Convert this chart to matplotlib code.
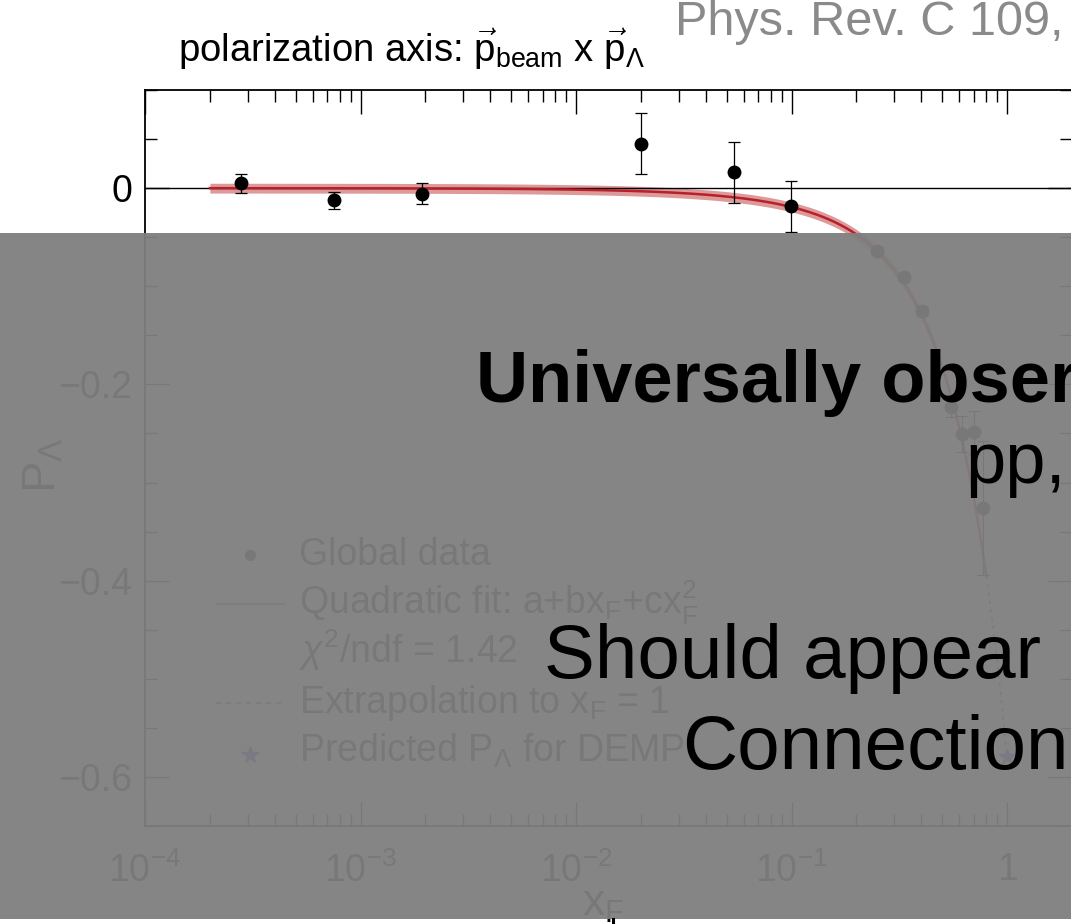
import numpy as np
import matplotlib
matplotlib.use("Agg")
import matplotlib.pyplot as plt
from matplotlib.patches import Rectangle
from matplotlib.lines import Line2D
from matplotlib.ticker import FuncFormatter, MultipleLocator, LogLocator

plt.rcParams["font.family"] = ["Liberation Sans", "DejaVu Sans"]
plt.rcParams["mathtext.fontset"] = "custom"
plt.rcParams["mathtext.rm"] = "Liberation Sans"
plt.rcParams["mathtext.it"] = "Liberation Sans:italic"
plt.rcParams["mathtext.bf"] = "Liberation Sans:bold"

# global Lambda polarization data (x_F, P_Lambda, error)
xf = [2.8e-4, 7.5e-4, 1.93e-3, 2.0e-2, 5.4e-2, 0.099,
      0.249, 0.332, 0.404, 0.547, 0.619, 0.701, 0.776]
pl = [0.005, -0.0126, -0.0057, 0.0453, 0.0163, -0.0187,
      -0.0636, -0.091, -0.125, -0.2235, -0.2506, -0.249, -0.326]
err = [0.0095, 0.009, 0.0105, 0.031, 0.031, 0.026,
       0.004, 0.004, 0.005, 0.010, 0.018, 0.022, 0.068]

# quadratic fit a + b x + c x^2 and its range
fit_a, fit_b, fit_c = 0.0, -0.15, -0.43
fit_band = 0.005
fit_range = (2.0e-4, 0.8)
extrap_range = (0.8, 1.0)
pred_x, pred_p = 1.0, -0.58

legend_labels = ["Global data",
                 r"Quadratic fit: a+bx$_\mathrm{F}$+cx$_\mathrm{F}^2$",
                 r"$\chi^2$/ndf = 1.42",
                 r"Extrapolation to x$_\mathrm{F}$ = 1",
                 r"Predicted P$_\Lambda$ for DEMP"]

FIT_RED = "#b8202a"
BAND_RED = "#dc9a9a"
BLUE = "#3030e0"

fig = plt.figure(figsize=(10.71, 9.24), dpi=100)
ax = fig.add_axes([145 / 1071, 98 / 924, 927 / 1071, 736 / 924])

xx = np.logspace(np.log10(fit_range[0]), np.log10(fit_range[1]), 400)
yy = fit_a + fit_b * xx + fit_c * xx ** 2
ax.fill_between(xx, yy - fit_band, yy + fit_band, color=BAND_RED, lw=0, zorder=1)
ax.plot(xx, yy, color=FIT_RED, lw=1.8, zorder=2)

xe = np.linspace(extrap_range[0], extrap_range[1], 50)
ax.plot(xe, fit_a + fit_b * xe + fit_c * xe ** 2, color=BLUE, lw=1.2,
        ls=(0, (2, 3)), zorder=2)
ax.plot([pred_x], [pred_p], marker="*", color=BLUE, ms=12, ls="none", zorder=4)

ax.axhline(0, color="black", lw=1.0, zorder=1.5)
ax.errorbar(xf, pl, yerr=err, fmt="o", color="black", ms=9, elinewidth=0.9,
            capsize=4, capthick=0.9, zorder=3)

ax.set_xscale("log")
ax.set_xlim(1e-4, 2.0)
ax.set_ylim(-0.65, 0.1)
ax.set_yticks([-0.6, -0.4, -0.2, 0.0])
ax.yaxis.set_minor_locator(MultipleLocator(0.05))
ax.xaxis.set_major_locator(LogLocator(base=10, numticks=10))
ax.xaxis.set_minor_locator(LogLocator(base=10, subs=np.arange(2, 10), numticks=10))
ax.yaxis.set_major_formatter(FuncFormatter(
    lambda v, p: "0" if abs(v) < 1e-9 else f"{v:g}".replace("-", "\u2212")))
ax.xaxis.set_major_formatter(FuncFormatter(
    lambda v, p: "1" if abs(v - 1) < 1e-9 else r"$10^{%d}$" % round(np.log10(v))))
ax.xaxis.set_minor_formatter(FuncFormatter(lambda v, p: ""))
ax.tick_params(which="both", direction="in", top=True, right=True, width=1.0)
ax.tick_params(which="major", length=17, labelsize=27)
ax.tick_params(which="minor", length=8.5)
ax.tick_params(axis="y", pad=9)
ax.tick_params(axis="x", pad=19)
for s in ax.spines.values():
    s.set_linewidth(1.3)

ax.set_xlabel(r"x$_\mathrm{F}$", fontsize=32)
ax.xaxis.set_label_coords(0.494, -0.079)
ax.set_ylabel(r"P$_\Lambda$", fontsize=34)
ax.yaxis.set_label_coords(-0.086, 0.49)

# legend drawn by hand (ROOT style, no frame)
hx0, hx1, tx = 0.077, 0.150, 0.166
rows = [0.3546, 0.288, 0.2215, 0.1535, 0.087]
for i, (lab, yb) in enumerate(zip(legend_labels, rows)):
    ax.text(tx, yb, lab, transform=ax.transAxes, fontsize=27, va="baseline")
    yc = yb + 0.014
    if i == 0:
        ax.plot([(hx0 + hx1) / 2], [yc], "o", color="black", ms=7,
                transform=ax.transAxes)
    elif i == 1:
        ax.plot([hx0, hx1], [yc, yc], color=FIT_RED, lw=1.2, transform=ax.transAxes)
    elif i == 3:
        ax.plot([hx0, hx1], [yc, yc], color=BLUE, lw=1.2, ls=(0, (3, 3)),
                transform=ax.transAxes)
    elif i == 4:
        ax.plot([(hx0 + hx1) / 2], [yc - 0.004], "*", color=BLUE, ms=13,
                transform=ax.transAxes)

fig.text(178 / 1071, 1 - 62 / 924,
         r"polarization axis: $\vec{\mathrm{p}}_{\mathrm{beam}}$ x $\vec{\mathrm{p}}_{\Lambda}$",
         fontsize=27.5, va="baseline")
fig.text(675 / 1071, 1 - 35 / 924, "Phys. Rev. C 109,", fontsize=35,
         color="#8a8a8a", va="baseline")

# grey slide overlay covering lower part of the plot
fig.add_artist(Rectangle((0, 5 / 924), 1, 686 / 924, transform=fig.transFigure,
                         facecolor="#7f7f7f", alpha=0.95, lw=0, zorder=5))
fig.add_artist(Line2D([613 / 1071, 613 / 1071], [0, 5 / 924], color="black",
                      lw=2.2, transform=fig.transFigure, zorder=6))

fig.text(476 / 1071, 1 - 401.7 / 924, "Universally observed", fontsize=52,
         fontweight="bold", va="baseline", zorder=6)
fig.text(965 / 1071, 1 - 483.3 / 924, "pp,", fontsize=52, va="baseline", zorder=6)
fig.text(544 / 1071, 1 - 678 / 924, "Should appear", fontsize=55,
         va="baseline", zorder=6)
fig.text(682 / 1071, 1 - 769 / 924, "Connection", fontsize=55,
         va="baseline", zorder=6)

fig.savefig("out.png", dpi=100)
